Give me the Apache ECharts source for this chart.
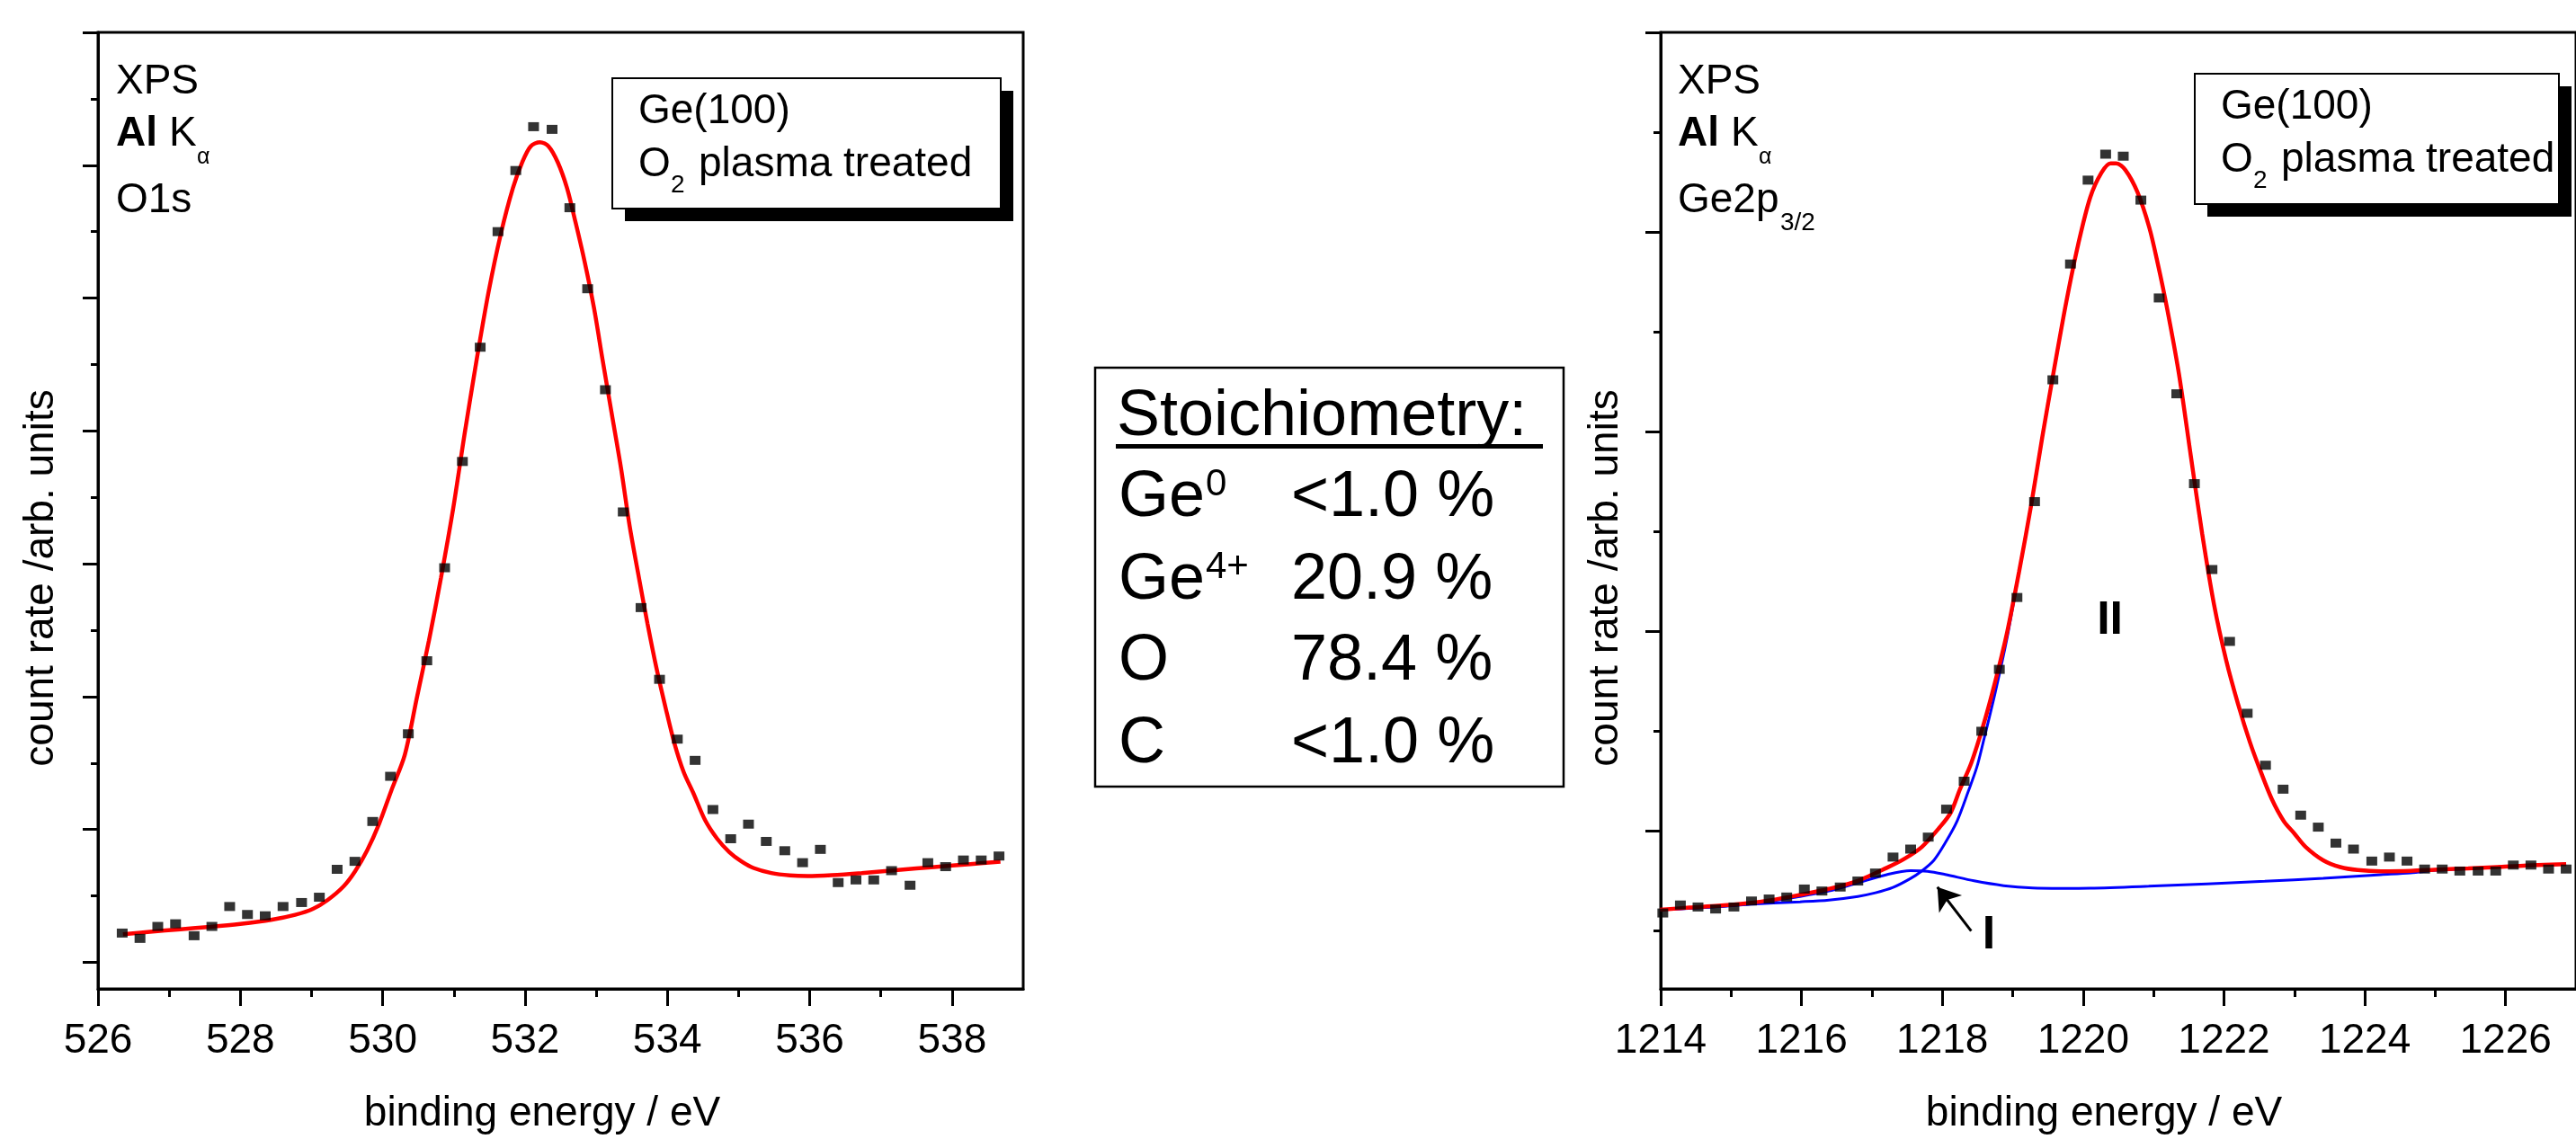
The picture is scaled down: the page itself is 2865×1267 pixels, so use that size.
<!DOCTYPE html>
<html>
<head>
<meta charset="utf-8">
<script src="https://cdn.jsdelivr.net/npm/echarts@6/dist/echarts.min.js"></script>
<style>
html,body{margin:0;padding:0;background:#fff}
#chart{width:2865px;height:1267px}
</style>
</head>
<body>
<div id="chart"></div>
<script>
const FONT = "'Liberation Sans', Arial, Helvetica, sans-serif";

// ---- O1s panel ----
const oEnergy = [526.34,526.59,526.84,527.09,527.35,527.60,527.85,528.10,528.35,528.60,
  528.86,529.11,529.36,529.61,529.86,530.11,530.36,530.62,530.87,531.12,
  531.37,531.62,531.87,532.12,532.38,532.63,532.88,533.13,533.38,533.63,
  533.89,534.14,534.39,534.64,534.89,535.14,535.39,535.65,535.90,536.15,
  536.40,536.65,536.90,537.15,537.41,537.66,537.91,538.16,538.41,538.66];
const oCounts = [0.22,0.18,0.27,0.29,0.20,0.27,0.42,0.36,0.35,0.42,
  0.45,0.49,0.70,0.76,1.06,1.40,1.72,2.27,2.97,3.77,
  4.63,5.50,5.96,6.29,6.27,5.68,5.07,4.31,3.39,2.67,
  2.13,1.68,1.52,1.15,0.93,1.04,0.91,0.84,0.75,0.85,
  0.60,0.62,0.62,0.69,0.58,0.75,0.72,0.77,0.77,0.80];
const oFitEnergy = [526.35,526.73,527.16,527.58,528.00,528.43,528.77,529.02,529.23,529.45,
  529.61,529.78,529.95,530.12,530.31,530.48,530.65,530.82,530.99,531.15,
  531.32,531.49,531.66,531.83,531.96,532.08,532.21,532.33,532.46,532.59,
  532.71,532.84,532.97,533.09,533.22,533.35,533.47,533.60,533.72,533.85,
  533.98,534.10,534.23,534.36,534.53,534.70,534.87,535.04,535.21,535.46,
  535.72,535.97,536.31,536.73,537.24,537.75,538.26,538.68];
const oFitCounts = [0.211,0.229,0.249,0.267,0.289,0.319,0.357,0.402,0.470,0.571,
  0.683,0.841,1.043,1.291,1.560,1.991,2.422,2.897,3.414,3.974,
  4.534,5.052,5.483,5.828,6.022,6.143,6.173,6.143,6.022,5.828,
  5.570,5.268,4.923,4.534,4.125,3.716,3.284,2.897,2.552,2.207,
  1.905,1.647,1.431,1.28,1.07,0.93,0.83,0.76,0.71,0.672,
  0.654,0.649,0.656,0.672,0.695,0.717,0.739,0.757];

// ---- Ge2p3/2 panel ----
const geEnergy = [1214.03,1214.28,1214.53,1214.78,1215.04,1215.29,1215.54,1215.79,1216.04,1216.29,
  1216.55,1216.80,1217.05,1217.30,1217.55,1217.80,1218.06,1218.31,1218.56,1218.81,
  1219.06,1219.31,1219.57,1219.82,1220.07,1220.32,1220.57,1220.82,1221.08,1221.33,
  1221.58,1221.83,1222.08,1222.33,1222.59,1222.84,1223.09,1223.34,1223.59,1223.84,
  1224.10,1224.35,1224.60,1224.85,1225.10,1225.35,1225.61,1225.86,1226.11,1226.36,
  1226.61,1226.86];
const geCounts = [-0.41,-0.37,-0.38,-0.39,-0.38,-0.35,-0.34,-0.33,-0.29,-0.30,
  -0.28,-0.25,-0.21,-0.13,-0.09,-0.03,0.11,0.25,0.50,0.81,
  1.17,1.65,2.26,2.84,3.26,3.39,3.38,3.16,2.67,2.19,
  1.74,1.31,0.95,0.59,0.33,0.21,0.08,0.02,-0.06,-0.09,
  -0.15,-0.13,-0.15,-0.19,-0.19,-0.20,-0.20,-0.20,-0.17,-0.17,
  -0.19,-0.19];
const geFitEnergy = [1213.99,1214.41,1214.82,1215.23,1215.56,1215.98,1216.39,1216.80,1217.21,1217.46,
  1217.71,1217.96,1218.12,1218.25,1218.41,1218.58,1218.75,1218.92,1219.09,1219.26,
  1219.42,1219.59,1219.76,1219.93,1220.10,1220.26,1220.39,1220.47,1220.60,1220.77,
  1220.94,1221.06,1221.19,1221.36,1221.53,1221.69,1221.86,1222.03,1222.20,1222.37,
  1222.52,1222.68,1222.85,1223.00,1223.16,1223.41,1223.65,1223.90,1224.23,1224.65,
  1225.06,1225.47,1225.88,1226.30,1226.86];
const geFitCounts = [-0.394,-0.383,-0.374,-0.361,-0.346,-0.319,-0.289,-0.249,-0.184,-0.139,
  -0.079,0.018,0.093,0.209,0.34,0.527,0.747,0.995,1.299,1.629,
  1.974,2.318,2.649,2.939,3.173,3.297,3.344,3.344,3.311,3.201,
  3.022,2.842,2.622,2.291,1.877,1.491,1.133,0.858,0.637,0.444,
  0.30,0.16,0.05,-0.012,-0.079,-0.146,-0.180,-0.195,-0.201,-0.199,
  -0.192,-0.187,-0.180,-0.172,-0.165];
// component II (main Ge4+ peak), blue
const geCompIIEnergy = [1213.99,1214.74,1215.23,1215.98,1216.39,1216.80,1217.05,1217.30,1217.55,1217.71,
  1217.88,1218.04,1218.21,1218.37,1218.49,1218.58,1218.75,1218.92,1219.09,1219.26,
  1219.42,1219.59,1219.76,1219.93,1220.10,1220.26,1220.39,1220.47,1220.60,1220.77,
  1220.94,1221.06,1221.19,1221.36,1221.53,1221.69,1221.86,1222.03,1222.20,1222.37,
  1222.52,1222.68,1222.85,1223.00,1223.16,1223.41,1223.65,1223.90,1224.23,1224.65,
  1225.06,1225.47,1225.88,1226.30,1226.86];
const geCompIICounts = [-0.394,-0.379,-0.367,-0.354,-0.345,-0.327,-0.309,-0.282,-0.237,-0.199,
  -0.146,-0.06,0.05,0.20,0.32,0.444,0.692,0.968,1.299,1.629,
  1.974,2.318,2.649,2.939,3.173,3.297,3.344,3.344,3.311,3.201,
  3.022,2.842,2.622,2.291,1.877,1.491,1.133,0.858,0.637,0.444,
  0.30,0.16,0.05,-0.012,-0.079,-0.146,-0.180,-0.195,-0.201,-0.199,
  -0.192,-0.187,-0.180,-0.172,-0.165];
// component I (Ge0), blue
const geCompIEnergy = [1213.99,1215.23,1215.98,1216.39,1216.80,1217.21,1217.55,1217.79,1218.04,1218.45,
  1218.87,1219.28,1219.69,1220.10,1220.93,1221.76,1222.58,1223.41,1224.23,1224.65,
  1225.06,1225.88,1226.86];
const geCompICounts = [-0.394,-0.367,-0.327,-0.300,-0.259,-0.218,-0.198,-0.201,-0.217,-0.249,
  -0.273,-0.285,-0.287,-0.286,-0.276,-0.264,-0.251,-0.236,-0.218,-0.209,
  -0.195,-0.180,-0.165];

// ticks
const oTicks = [526,528,530,532,534,536,538];
const oMinorTicks = [527,529,531,533,535,537];
const geTicks = [1214,1216,1218,1220,1222,1224,1226];
const geMinorTicks = [1215,1217,1219,1221,1223,1225];
const oYTicks = [0,1,2,3,4,5,6,7];
const oYMinorTicks = [0.5,1.5,2.5,3.5,4.5,5.5,6.5];
const geYTicks = [0,1,2,3,4];
const geYMinorTicks = [-0.5,0.5,1.5,2.5,3.5];

const stoichRows = [
  ['Ge','0','<1.0 %'],
  ['Ge','4+','20.9 %'],
  ['O','','78.4 %'],
  ['C','','<1.0 %']
];

function pairs(xs, ys){
  return xs.map((x, i)=>[x, ys[i]]);
}

// text placed by its baseline
function txt(x, base, text, size, extra){
  return {
    type: 'text', x: x, y: base - 0.35*size, z: 10,
    style: Object.assign({
      text: text, fontSize: size, fontFamily: FONT, fill: '#000',
      align: 'left', verticalAlign: 'middle'
    }, extra || {})
  };
}

function xAxisMajor(grid, min, max, ticks){
  return {
    type: 'value', gridIndex: grid, min: min, max: max, position: 'bottom',
    axisLine: {show: true, onZero: false, lineStyle: {color: '#000', width: 3}},
    axisTick: {show: true, customValues: ticks, length: 19, lineStyle: {color: '#000', width: 3}},
    axisLabel: {show: true, customValues: ticks, margin: 35, fontSize: 46, color: '#000',
      fontFamily: FONT, formatter: (v)=>String(v)},
    splitLine: {show: false}
  };
}
function xAxisMinor(grid, min, max, ticks){
  return {
    type: 'value', gridIndex: grid, min: min, max: max, position: 'bottom',
    axisLine: {show: false, onZero: false},
    axisTick: {show: true, customValues: ticks, length: 9, lineStyle: {color: '#000', width: 3}},
    axisLabel: {show: false},
    splitLine: {show: false}
  };
}
function yAxisTicks(grid, min, max, ticks, len, line){
  return {
    type: 'value', gridIndex: grid, min: min, max: max, position: 'left',
    axisLine: {show: line, onZero: false, lineStyle: {color: '#000', width: 3}},
    axisTick: {show: true, customValues: ticks, length: len, lineStyle: {color: '#000', width: 3}},
    axisLabel: {show: false},
    splitLine: {show: false}
  };
}

const dotStyle = {
  type: 'scatter', symbol: 'rect', symbolSize: [12, 10],
  itemStyle: {color: '#000'}, z: 4, silent: true
};
const lineStyleBase = {
  type: 'line', showSymbol: false, symbol: 'none', smooth: 0.3, silent: true
};

// annotation texts
const graphics = [];
[[129, 0], [1866, 1]].forEach(([x0, panel])=>{
  graphics.push(txt(x0, 107, 'XPS', 46));
  graphics.push(txt(x0, 165, 'Al', 46, {fontWeight: 'bold'}));
  graphics.push(txt(x0 + 59, 165, 'K', 46));
  graphics.push(txt(x0 + 90, 184, 'α', 25));
  if(panel === 0){
    graphics.push(txt(x0, 239, 'O1s', 46));
  }
  else{
    graphics.push(txt(x0, 239, 'Ge2p', 46));
    graphics.push(txt(x0 + 114, 258, '3/2', 28));
  }
});

// sample legend boxes with drop shadow
[[681, 87, 432], [2441, 82, 405]].forEach(([bx, by, bw])=>{
  graphics.push({type: 'rect', z: 8, shape: {x: bx + 14, y: by + 14, width: bw, height: 145},
    style: {fill: '#000'}});
  graphics.push({type: 'rect', z: 9, shape: {x: bx, y: by, width: bw, height: 145},
    style: {fill: '#fff', stroke: '#000', lineWidth: 2}});
  graphics.push(txt(bx + 29, by + 53, 'Ge(100)', 46));
  graphics.push(txt(bx + 29, by + 112, 'O', 46));
  graphics.push(txt(bx + 65, by + 129, '2', 28));
  graphics.push(txt(bx + 96, by + 112, 'plasma treated', 46));
});

// stoichiometry table
graphics.push({type: 'rect', z: 8, shape: {x: 1218, y: 409, width: 521, height: 466},
  style: {fill: '#fff', stroke: '#000', lineWidth: 2.5}});
graphics.push(txt(1242, 489, 'Stoichiometry:', 72));
graphics.push({type: 'rect', z: 10, shape: {x: 1241, y: 494, width: 475, height: 5},
  style: {fill: '#000'}});
const rowBase = [579, 671, 761, 853];
stoichRows.forEach((r, i)=>{
  graphics.push(txt(1244, rowBase[i], r[0], 72));
  if(r[1]) graphics.push(txt(1341, rowBase[i] - 25, r[1], 42));
  graphics.push(txt(1436, rowBase[i], r[2], 72));
});

// axis titles
[[603, 46], [2340, 1786]].forEach(([cx, yx])=>{
  graphics.push({type: 'text', x: cx, y: 1239, z: 10,
    style: {text: 'binding energy / eV', fontSize: 46, fontFamily: FONT, fill: '#000',
      align: 'center', verticalAlign: 'middle'}});
  graphics.push({type: 'text', x: yx, y: 643, rotation: Math.PI/2, z: 10,
    style: {text: 'count rate /arb. units', fontSize: 46, fontFamily: FONT, fill: '#000',
      align: 'center', verticalAlign: 'middle'}});
});

const chart = echarts.init(document.getElementById('chart'));
const option = {
  animation: false,
  backgroundColor: '#fff',
  textStyle: {fontFamily: FONT},
  grid: [
    {left: 109, top: 36, width: 1029, height: 1064, show: true, borderColor: '#000', borderWidth: 3},
    {left: 1847, top: 36, width: 1029, height: 1064, show: true, borderColor: '#000', borderWidth: 3}
  ],
  xAxis: [
    xAxisMajor(0, 526, 539, oTicks),
    xAxisMinor(0, 526, 539, oMinorTicks),
    xAxisMajor(1, 1214, 1227, geTicks),
    xAxisMinor(1, 1214, 1227, geMinorTicks)
  ],
  yAxis: [
    yAxisTicks(0, -0.2, 7, oYTicks, 17, true),
    yAxisTicks(0, -0.2, 7, oYMinorTicks, 8, false),
    yAxisTicks(1, -0.79, 4, geYTicks, 17, true),
    yAxisTicks(1, -0.79, 4, geYMinorTicks, 8, false)
  ],
  series: [
    Object.assign({}, lineStyleBase, {
      name: 'O1s fit', xAxisIndex: 0, yAxisIndex: 0, z: 3,
      lineStyle: {color: '#ff0000', width: 4.5},
      data: pairs(oFitEnergy, oFitCounts)
    }),
    Object.assign({}, dotStyle, {
      name: 'O1s', xAxisIndex: 0, yAxisIndex: 0,
      data: pairs(oEnergy, oCounts)
    }),
    Object.assign({}, lineStyleBase, {
      name: 'component I', xAxisIndex: 2, yAxisIndex: 2, z: 2,
      lineStyle: {color: '#0000ff', width: 3},
      data: pairs(geCompIEnergy, geCompICounts),
      markLine: {
        silent: true, symbol: ['none', 'arrow'], symbolSize: 24,
        lineStyle: {color: '#000', width: 3, type: 'solid'},
        itemStyle: {color: '#000'},
        label: {show: false},
        data: [[{coord: [1218.41, -0.50]}, {coord: [1217.93, -0.28]}]]
      }
    }),
    Object.assign({}, lineStyleBase, {
      name: 'component II', xAxisIndex: 2, yAxisIndex: 2, z: 2,
      lineStyle: {color: '#0000ff', width: 3},
      data: pairs(geCompIIEnergy, geCompIICounts)
    }),
    Object.assign({}, lineStyleBase, {
      name: 'Ge2p fit', xAxisIndex: 2, yAxisIndex: 2, z: 3,
      lineStyle: {color: '#ff0000', width: 4.5},
      data: pairs(geFitEnergy, geFitCounts)
    }),
    Object.assign({}, dotStyle, {
      name: 'Ge2p', xAxisIndex: 2, yAxisIndex: 2,
      data: pairs(geEnergy, geCounts),
      markPoint: {
        silent: true, symbol: 'circle', symbolSize: 0,
        label: {show: true, position: 'inside', fontSize: 52, fontWeight: 'bold',
          color: '#000', fontFamily: FONT},
        data: [
          {coord: [1220.38, 1.054], label: {formatter: 'II'}},
          {coord: [1218.66, -0.523], label: {formatter: 'I'}}
        ]
      }
    })
  ],
  graphic: graphics
};
chart.setOption(option);
</script>
</body>
</html>
